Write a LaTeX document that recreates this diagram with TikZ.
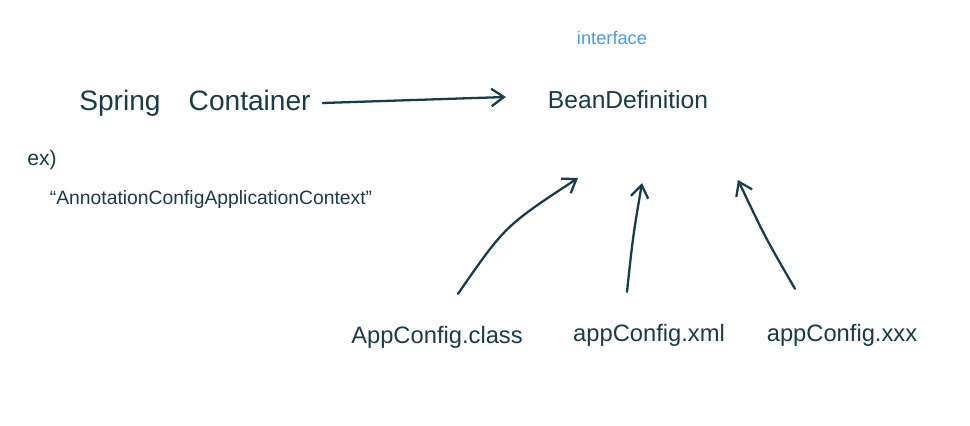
\documentclass[tikz,border=0pt]{standalone}
\usepackage{fontspec}
\setmainfont{Liberation Sans}
\usetikzlibrary{positioning,arrows.meta,calc}
\definecolor{ink}{HTML}{183C48}
\definecolor{note}{HTML}{4A9AF0}
\tikzset{
    word/.style = {
        text=ink,
        inner sep=1pt
    },
    bigword/.style = {
        word,
        font=\fontsize{16}{18}\selectfont
    },
    fileword/.style = {
        word,
        font=\fontsize{13.5}{16}\selectfont
    },
    pen/.style = {
        draw=ink,
        line width=1.3pt,
        line cap=round
    },
    >={Straight Barb[length=2.5mm,width=3.5mm]},
}
\begin{document}
\begin{tikzpicture}
            \useasboundingbox[fill=white] (0,0) rectangle (19.4,8.52);

            \node[bigword] (container) at (3.9,6.46) {Spring\quad Container};
            \node[word, font=\fontsize{12}{14}\selectfont] (ex) at (0.84,5.32) {ex)};
            \node[word, font=\fontsize{11}{13}\selectfont] (context) at (4.22,4.52) {``AnnotationConfigApplicationContext''};

            \node[word, font=\fontsize{14}{16}\selectfont] (bean) at (12.56,6.52) {BeanDefinition};
            \node[word, text=note, font=\fontsize{10.4}{12}\selectfont] (iface) at (12.24,7.76) {interface};

            \node[fileword] (cls) at (8.74,1.78) {AppConfig.class};
            \node[fileword] (xml) at (12.98,1.82) {appConfig.xml};
            \node[fileword] (xxx) at (16.84,1.82) {appConfig.xxx};

            % arrow ends below the interface name
            \coordinate (tipA) at (11.56,4.96);
            \coordinate (tipB) at (12.84,4.86);
            \coordinate (tipC) at (14.76,4.92);

            \path[pen, ->] (container.east) ++(0.2,0) coordinate (startC) -- ($(bean.west)+(-0.8,0.06)$) coordinate (endC);
            \path[pen, ->] ($(cls.north)+(0.42,0.6)$) .. controls (10.1,4.0) .. (tipA);
            \path[pen, ->] ($(xml.north)+(-0.44,0.6)$) .. controls (12.66,3.8) .. (tipB);
            \path[pen, ->] ($(xxx.north)+(-0.94,0.66)$) .. controls (15.3,3.78) .. (tipC);

        \end{tikzpicture}
\end{document}
